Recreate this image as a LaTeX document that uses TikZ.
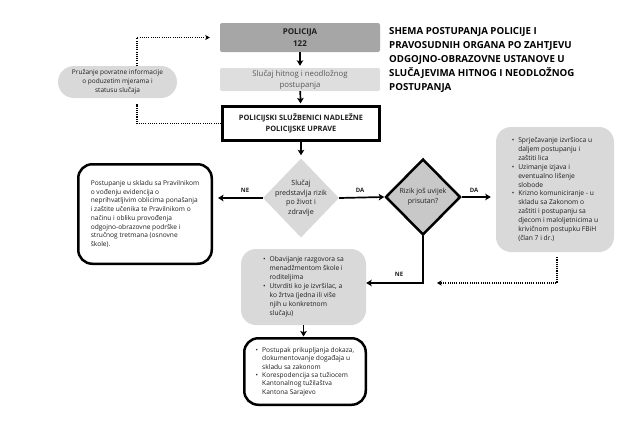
\documentclass[tikz,border=0pt]{standalone}
\usepackage{fontspec}
\setmainfont{Open Sans}
\usetikzlibrary{arrows.meta,shapes.geometric,calc}
\definecolor{gA}{HTML}{A6A6A6}
\definecolor{gB}{HTML}{DEDEDE}
\definecolor{gC}{HTML}{D9D9D9}
\definecolor{gD}{HTML}{C8C8C8}
\definecolor{txt}{HTML}{1E1E1E}
\newcommand{\bul}{\makebox[6.5pt][l]{\textbullet}}
\newcommand{\ind}{\hspace*{6.5pt}}
\begin{document}
\begin{tikzpicture}[x=1pt,y=-1pt,
  body/.style={font=\fontsize{6.6}{8.8}\selectfont, text=txt, align=left},
  gbox/.style={fill=gC, rounded corners=15pt, inner sep=0pt},
  bbox/.style={draw=black, line width=2.5pt, fill=white, rounded corners=14pt, inner sep=0pt},
  arr/.style={draw=black, line width=1.7pt, -{Stealth[length=5.5pt,width=6.5pt,inset=1.2pt]}},
  dots/.style={draw=black, line width=1.7pt, dash pattern=on 1.1pt off 1.1pt},
  dtip/.style={-{Stealth[length=4.5pt,width=5pt,inset=1pt]}},
  yn/.style={font=\bfseries\fontsize{6}{6}\selectfont, text=txt, inner sep=0pt}]
\useasboundingbox (0,0) rectangle (632,421);

% title
\node[anchor=west, align=left, inner sep=0pt, text=black,
  font=\bfseries\fontsize{9.7}{14.2}\selectfont] (title) at (389,60)
  {SHEMA POSTUPANJA POLICIJE I\\PRAVOSUDNIH ORGANA PO ZAHTJEVU\\ODGOJNO-OBRAZOVNE USTANOVE U\\SLUČAJEVIMA HITNOG I NEODLOŽNOG\\POSTUPANJA};

% top column
\node[fill=gA, rounded corners=2pt, minimum width=160pt, minimum height=29pt, inner sep=0pt,
  align=center, text=txt, font=\bfseries\fontsize{8}{12}\selectfont] (pol) at (300,37.5) {POLICIJA\\122};
\node[fill=gB, rounded corners=2pt, minimum width=160pt, minimum height=23pt, inner sep=0pt,
  align=center, text=black!65, font=\fontsize{7.8}{11}\selectfont] (hit) at (300,79.5) {Slučaj hitnog i neodložnog\\postupanja};
\node[draw=black, line width=2.6pt, fill=white, minimum width=157pt, minimum height=34.5pt, inner sep=0pt,
  align=center, text=txt, font=\bfseries\fontsize{7.4}{11}\selectfont] (psl) at (301,123.5) {POLICIJSKI SLUŽBENICI NADLEŽNE\\POLICIJSKE UPRAVE};

% feedback pill
\node[fill=gC, rounded corners=16pt, minimum width=119pt, minimum height=32pt, inner sep=0pt,
  body, font=\fontsize{6.5}{8.8}\selectfont, align=center] (pill) at (117.5,82) {Pružanje povratne informacije\\o poduzetim mjerama i\\statusu slučaja};

% decisions
\node[diamond, fill=gC, minimum width=76pt, minimum height=79pt, inner sep=0pt,
  label={[body, font=\fontsize{7.1}{9.7}\selectfont, align=center]center:{Slučaj\\predstavlja rizik\\po život i\\zdravlje}}] (d1) at (301,198) {};
\node[diamond, fill=gD, draw=black, line width=2.5pt, minimum width=75pt, minimum height=76pt, inner sep=0pt,
  label={[body, font=\fontsize{7}{9.8}\selectfont, align=center]center:{Rizik još uvijek\\prisutan?}}] (d2) at (423,197) {};

% outcome boxes
\node[bbox, minimum width=133.5pt, minimum height=99.5pt, body, font=\fontsize{6.6}{8.7}\selectfont] (left) at (145,214)
  {Postupanje u skladu sa Pravilnikom\\o vođenju evidencija o\\neprihvatljivim oblicima ponašanja\\i zaštite učenika te Pravilnikom o\\načinu i obliku provođenja\\odgojno-obrazovne podrške i\\stručnog tretmana (osnovne\\škole).};
\node[gbox, minimum width=118pt, minimum height=125pt, body, font=\fontsize{6.7}{8.9}\selectfont] (right) at (555,189.5)
  {\bul Sprječavanje izvršioca u\\\ind daljem postupanju i\\\ind zaštiti lica\\\bul Uzimanje izjava i\\\ind eventualno lišenje\\\ind slobode\\\bul Krizno komuniciranje - u\\\ind skladu sa Zakonom o\\\ind zaštiti i postupanju sa\\\ind djecom i maloljetnicima u\\\ind krivičnom postupku FBiH\\\ind (član 7 i dr.)};
\node[gbox, minimum width=125pt, minimum height=76pt, body, font=\fontsize{6.7}{9}\selectfont] (mid) at (303.5,287)
  {\bul Obavijanje razgovora sa\\\ind menadžmentom škole i\\\ind roditeljima\\\bul Utvrditi ko je izvršilac, a\\\ind ko žrtva (jedna ili više\\\ind njih u konkretnom\\\ind slučaju)};
\node[bbox, minimum width=121.5pt, minimum height=66.5pt, body, font=\fontsize{6.6}{8.4}\selectfont] (bot) at (305,371.5)
  {\bul Postupak prikupljanja dokaza,\\\ind dokumentovanje događaja u\\\ind skladu sa zakonom\\\bul Korespodencija sa tužiocem\\\ind Kantonalnog tužilaštva\\\ind Kantona Sarajevo};

% free ends
\coordinate (fb) at (437,283);
\coordinate (pb) at (137,104);

% solid connectors
\draw[arr, shorten >=2pt] (pol) -- (hit);
\draw[arr, shorten >=1.5pt] (hit) -- (psl);
\draw[arr, shorten >=3pt] (psl.south) -- (d1.north);
\draw[arr, shorten >=5pt] (d1.west) -- (d1.west -| left.east);
\draw[arr] (d1.east) -- (d2.west);
\draw[arr, shorten >=5pt] (d2.east) -- (d2.east -| right.west);
\draw[arr] (d2.south) |- ([yshift=4pt]mid.east);
\draw[arr, shorten >=0.5pt] (mid.south) -- (mid.south |- bot.north);

% dotted connectors
\draw[dots, dtip, shorten >=10pt] ([xshift=19.5pt]pill.north) |- (pol.west);
\draw[dots] (psl.west) -| (pb);
\draw[dots, dtip, shorten <=5pt] ([xshift=2pt]right.south) |- (fb);

% labels
\node[yn] (ne1) at (245,190) {NE};
\node[yn] (da1) at (360,190) {DA};
\node[yn] (da2) at (474,190) {DA};
\node[yn] (ne2) at (399,274) {NE};
\end{tikzpicture}
\end{document}
